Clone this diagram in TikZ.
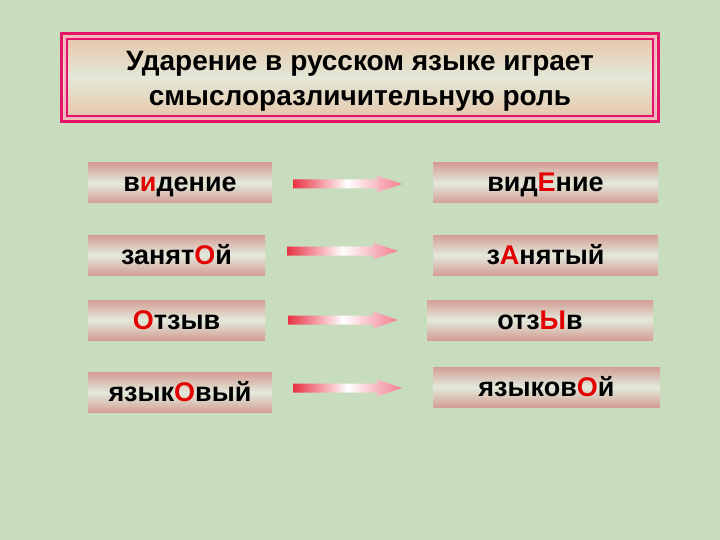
\documentclass[tikz,border=0pt]{standalone}
\usepackage{fontspec}
\setmainfont{Liberation Sans}
\usetikzlibrary{calc}
\definecolor{bg}{RGB}{200,220,190}
\definecolor{mag}{RGB}{228,20,105}
\definecolor{lpink}{RGB}{246,178,196}
\definecolor{titletan}{RGB}{232,196,166}
\definecolor{titlelight}{RGB}{226,232,216}
\definecolor{boxpink}{RGB}{212,158,148}
\definecolor{boxlight}{RGB}{226,234,220}
\definecolor{stress}{RGB}{226,0,0}
\definecolor{arL}{RGB}{232,50,68}
\definecolor{arR}{RGB}{242,125,143}
\newcommand{\st}[1]{\textcolor{stress}{#1}}
\newcommand{\gradarrow}[2]{%
  \shade[arrowshade] ($(#1)+(0,-4.5)$) -- ($(#2)+(-25,-4.5)$) -- ($(#2)+(-25,-8.5)$) -- (#2)
    -- ($(#2)+(-25,8.5)$) -- ($(#2)+(-25,4.5)$) -- ($(#1)+(0,4.5)$) -- cycle;}
\begin{document}
\begin{tikzpicture}[x=1pt,y=-1pt,
  wordbox/.style={shade, top color=boxpink, bottom color=boxpink, middle color=boxlight,
    inner sep=0pt, minimum height=40pt, text height=20pt, text depth=2pt,
    font=\fontsize{27}{32}\selectfont\bfseries},
  titlebox/.style={shade, top color=titletan, bottom color=titletan, middle color=titlelight,
    inner sep=0pt, minimum width=596pt, minimum height=87pt},
  titletext/.style={align=center, inner sep=0pt, font=\fontsize{28}{35}\selectfont\bfseries},
  arrowshade/.style={left color=arL, right color=arR, middle color=white}
]
\useasboundingbox (0,0) rectangle (720,540);
\fill[bg] (0,0) rectangle (720,540);

% title
\node[titlebox] (t) at (360,77.5) {};
\draw[mag, line width=3pt] (t.north west) rectangle (t.south east);
\draw[lpink, line width=1.6pt] ([shift={(3.3,3.3)}]t.north west) rectangle ([shift={(-3.3,-3.3)}]t.south east);
\draw[mag, line width=1.1pt] ([shift={(5.2,5.2)}]t.north west) rectangle ([shift={(-5.2,-5.2)}]t.south east);
\node[titletext] (tt) at ([yshift=-4pt]t.center) {Ударение в русском языке играет\\смыслоразличительную роль};

% left words
\node[wordbox, minimum width=184pt] (l1) at (180,183) {в\st{и}дение};
\node[wordbox, minimum width=177pt] (l2) at (176.5,255) {занят\st{О}й};
\node[wordbox, minimum width=177pt] (l3) at (176.5,320) {\st{О}тзыв};
\node[wordbox, minimum width=184pt] (l4) at (180,392.5) {язык\st{О}вый};

% right words
\node[wordbox, minimum width=225pt] (r1) at (545.5,183) {вид\st{Е}ние};
\node[wordbox, minimum width=225pt] (r2) at (545.5,255) {з\st{А}нятый};
\node[wordbox, minimum width=226pt] (r3) at (540,320) {отз\st{Ы}в};
\node[wordbox, minimum width=227pt] (r4) at (546.5,387) {языков\st{О}й};

% arrows
\coordinate (a1s) at (293,184);
\coordinate (a1e) at (402,184);
\coordinate (a2s) at (287,251);
\coordinate (a2e) at (398,251);
\coordinate (a3s) at (288,320);
\coordinate (a3e) at (398,320);
\coordinate (a4s) at (293,388);
\coordinate (a4e) at (402,388);
\gradarrow{a1s}{a1e}
\gradarrow{a2s}{a2e}
\gradarrow{a3s}{a3e}
\gradarrow{a4s}{a4e}
\end{tikzpicture}
\end{document}
